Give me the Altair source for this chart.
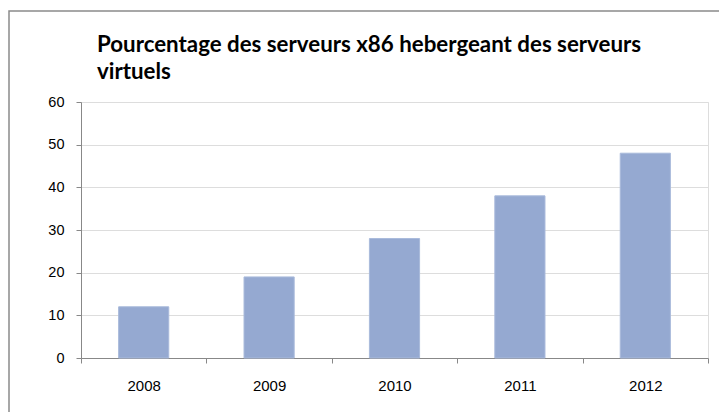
import altair as alt
import pandas as pd

years = ["2008", "2009", "2010", "2011", "2012"]
values = [12, 19, 28, 38, 48]
y_ticks = [0, 10, 20, 30, 40, 50, 60]
title_lines = ["Pourcentage des serveurs x86 hebergeant des serveurs", "virtuels"]

df = pd.DataFrame({"year": years, "value": values})

bars = alt.Chart(df).mark_bar(
    width=alt.RelativeBandSize(0.4), color="#95A9D1", stroke="#A9BADB", strokeWidth=1
).encode(
    x=alt.X("year:N", sort=years, title=None,
            scale=alt.Scale(paddingInner=0, paddingOuter=0),
            axis=alt.Axis(labelAngle=0, tickBand="extent", tickSize=5, labelPadding=15,
                          labelFontSize=15, grid=False, domain=True)),
    y=alt.Y("value:Q", title=None,
            scale=alt.Scale(domain=[0, 60], nice=False),
            axis=alt.Axis(values=y_ticks, tickSize=5, labelPadding=12, labelFontSize=14.5,
                          grid=True, domain=True)),
)

frame = alt.Chart(alt.Data(values=[{"a": 1}])).mark_rect(
    filled=False, stroke="#8A8A8A", strokeWidth=1.5, clip=False
).encode(
    x=alt.value(-72), x2=alt.value(800), y=alt.value(-91), y2=alt.value(600)
)

chart = alt.layer(frame, bars).properties(
    width=627,
    height=256,
    autosize=alt.AutoSizeParams(type="none"),
    padding={"left": 81, "top": 102, "right": 11, "bottom": 54},
    title=alt.Title(
        title_lines, anchor="start", frame="group", dx=16, offset=-73,
        fontSize=22.3, font="Lato", fontWeight="bold", color="#000000", lineHeight=27
    ),
).configure_view(stroke=None).configure_axis(
    labelFont="Lato", labelColor="#1a1a1a", gridColor="#858585", domainColor="#858585",
    tickColor="#858585", gridWidth=1, domainWidth=1, tickWidth=1
).configure(background="white")

chart.save("out.html", embed_options={"renderer": "svg", "actions": False})
